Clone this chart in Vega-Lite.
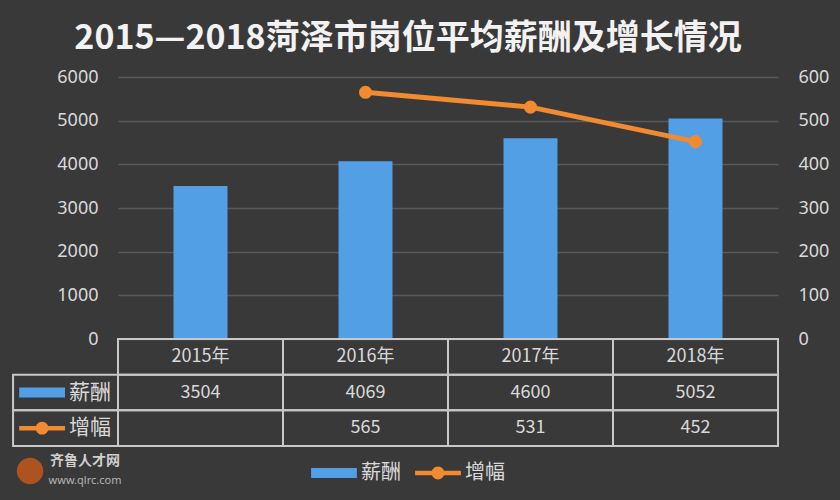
{
  "$schema": "https://vega.github.io/schema/vega-lite/v6.json",
  "autosize": {"type": "none"},
  "width": 660,
  "height": 262,
  "padding": {"left": 118, "top": 77, "right": 62, "bottom": 161},
  "background": "#393939",
  "config": {
    "font": "Noto Sans CJK SC",
    "view": {"stroke": null},
    "axis": {"labelColor": "#d9d9d9", "labelFontSize": 18, "labelFont": "Noto Sans", "domain": false, "ticks": false, "labelPadding": 20, "format": "d"}
  },
  "title": {"text": "2015—2018菏泽市岗位平均薪酬及增长情况", "fontSize": 34, "fontWeight": "bold", "color": "#f2f2f2", "font": "Noto Sans CJK SC", "anchor": "middle", "frame": "group", "dx": -40, "offset": 12},
  "datasets": {
    "main": [
      {"year": "2015年", "salary": 3504, "growth": null},
      {"year": "2016年", "salary": 4069, "growth": 565},
      {"year": "2017年", "salary": 4600, "growth": 531},
      {"year": "2018年", "salary": 5052, "growth": 452}
    ],
    "labels": [
      {"row": "salary", "label": "薪酬"},
      {"row": "growth", "label": "增幅"}
    ]
  },
  "layer": [
    {
      "data": {"name": "main"},
      "mark": {"type": "bar", "width": 54},
      "encoding": {
        "x": {"field": "year", "type": "nominal", "scale": {"paddingInner": 0, "paddingOuter": 0}, "axis": null},
        "y": {"field": "salary", "type": "quantitative", "scale": {"domain": [0, 6000]}, "axis": {"orient": "left", "values": [0, 1000, 2000, 3000, 4000, 5000, 6000], "format": "d", "grid": true, "gridColor": "#5a5a5a", "gridWidth": 1.5, "title": null}},
        "color": {
          "datum": "薪酬",
          "title": null,
          "scale": {"domain": ["薪酬", "增幅"], "range": ["#529fe6", "#f28a30"]},
          "legend": {
            "title": null, "orient": "none", "legendX": 193, "legendY": 373, "direction": "horizontal",
            "labelColor": "#d9d9d9", "labelFontSize": 20, "labelFont": "Noto Sans CJK SC",
            "symbolSize": 2100, "columnPadding": 14, "labelOffset": 4,
            "encode": {"symbols": {"update": {
              "shape": {"signal": "datum.value === '薪酬' ? 'M-1,-0.22H1V0.22H-1Z' : 'M-1,-0.1H1V0.1H-1ZM0.28,0A0.28,0.28 0 1 1 -0.28,0A0.28,0.28 0 1 1 0.28,0Z'"},
              "fill": {"signal": "datum.value === '薪酬' ? '#529fe6' : '#f28a30'"},
              "stroke": {"value": "transparent"},
              "strokeWidth": {"value": 0},
              "opacity": {"value": 1}
            }}}
          }
        }
      }
    },
    {
      "data": {"name": "main"},
      "transform": [{"filter": "datum.growth != null"}],
      "mark": {"type": "line", "strokeWidth": 5, "point": {"filled": true, "size": 170}},
      "encoding": {
        "x": {"field": "year", "type": "nominal"},
        "y": {"field": "growth", "type": "quantitative", "scale": {"domain": [0, 600]}, "axis": {"orient": "right", "values": [0, 100, 200, 300, 400, 500, 600], "format": "d", "grid": false, "title": null}},
        "color": {"datum": "增幅", "title": null}
      }
    },
    {
      "data": {"name": "main"},
      "transform": [{"fold": ["year", "salary", "growth"], "as": ["row", "v"]}],
      "mark": {"type": "rect", "fill": "transparent", "stroke": "#c8c8c8", "strokeWidth": 2},
      "encoding": {
        "x": {"field": "year", "type": "nominal"},
        "y": {"field": "row", "type": "nominal", "scale": {"domain": ["year", "salary", "growth"], "range": [262, 369], "paddingInner": 0, "paddingOuter": 0}, "axis": null}
      }
    },
    {
      "data": {"name": "main"},
      "transform": [{"fold": ["year", "salary", "growth"], "as": ["row", "v"]}, {"filter": "datum.v != null"}],
      "mark": {"type": "text", "color": "#d9d9d9", "fontSize": 18, "font": "Noto Sans CJK SC"},
      "encoding": {
        "x": {"field": "year", "type": "nominal"},
        "y": {"field": "row", "type": "nominal", "scale": {"domain": ["year", "salary", "growth"], "range": [262, 369], "paddingInner": 0, "paddingOuter": 0}, "axis": null},
        "text": {"field": "v", "type": "nominal"}
      }
    },
    {
      "data": {"name": "labels"},
      "mark": {"type": "rect", "fill": "transparent", "stroke": "#c8c8c8", "strokeWidth": 2},
      "encoding": {
        "x": {"datum": "2015年", "bandPosition": -0.636},
        "x2": {"datum": "2015年", "bandPosition": 0},
        "y": {"field": "row", "type": "nominal", "scale": {"domain": ["year", "salary", "growth"], "range": [262, 369], "paddingInner": 0, "paddingOuter": 0}, "axis": null}
      }
    },
    {
      "data": {"name": "labels"},
      "mark": {"type": "text", "color": "#d9d9d9", "fontSize": 21, "font": "Noto Sans CJK SC"},
      "encoding": {
        "x": {"datum": "2015年", "bandPosition": -0.17},
        "y": {"field": "row", "type": "nominal", "scale": {"domain": ["year", "salary", "growth"], "range": [262, 369], "paddingInner": 0, "paddingOuter": 0}, "axis": null},
        "text": {"field": "label", "type": "nominal"}
      }
    },
    {
      "data": {"name": "labels"},
      "mark": {"type": "point", "filled": true, "size": 2100, "opacity": 1, "strokeWidth": 0},
      "encoding": {
        "x": {"datum": "2015年", "bandPosition": -0.46},
        "y": {"field": "row", "type": "nominal", "scale": {"domain": ["year", "salary", "growth"], "range": [262, 369], "paddingInner": 0, "paddingOuter": 0}, "axis": null},
        "color": {"field": "label", "type": "nominal", "title": null},
        "shape": {"field": "label", "type": "nominal", "scale": {"domain": ["薪酬", "增幅"], "range": ["M-1,-0.22H1V0.22H-1Z", "M-1,-0.1H1V0.1H-1ZM0.28,0A0.28,0.28 0 1 1 -0.28,0A0.28,0.28 0 1 1 0.28,0Z"]}, "legend": null}
      }
    },
    {
      "data": {"values": [{}]},
      "mark": {"type": "point", "shape": "circle", "filled": true, "size": 700, "color": "#b9561e", "opacity": 0.9},
      "encoding": {
        "x": {"datum": "2015年", "bandPosition": -0.533},
        "y": {"datum": "icon", "type": "nominal", "scale": {"domain": ["name", "icon", "site"], "range": [379, 409], "paddingInner": 0, "paddingOuter": 0}, "axis": null}
      }
    },
    {
      "data": {"values": [{}]},
      "mark": {"type": "text", "text": "齐鲁人才网", "fontSize": 14, "fontWeight": "bold", "color": "#cfcfcf", "font": "Noto Sans CJK SC"},
      "encoding": {
        "x": {"datum": "2015年", "bandPosition": -0.2},
        "y": {"datum": "name", "type": "nominal", "scale": {"domain": ["name", "icon", "site"], "range": [379, 409], "paddingInner": 0, "paddingOuter": 0}, "axis": null}
      }
    },
    {
      "data": {"values": [{}]},
      "mark": {"type": "text", "text": "www.qlrc.com", "fontSize": 11, "color": "#b5b5b5", "font": "Noto Sans"},
      "encoding": {
        "x": {"datum": "2015年", "bandPosition": -0.2},
        "y": {"datum": "site", "type": "nominal", "scale": {"domain": ["name", "icon", "site"], "range": [379, 409], "paddingInner": 0, "paddingOuter": 0}, "axis": null}
      }
    }
  ],
  "resolve": {"scale": {"y": "independent"}}
}
